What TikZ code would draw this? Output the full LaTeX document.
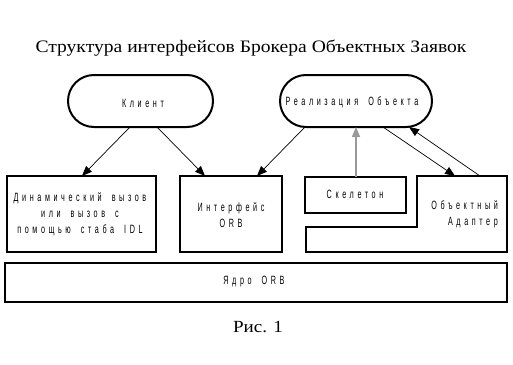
\documentclass[tikz,border=0pt]{standalone}
\usepackage{fontspec}
\setmainfont{Liberation Serif}
\newfontfamily\ttl[FakeStretch=1.12]{Liberation Serif}
\newfontfamily\narr[FakeStretch=0.6,LetterSpace=30,WordSpace=1.8]{Liberation Sans}
\usetikzlibrary{arrows.meta}
\begin{document}
\begin{tikzpicture}[x=1pt,y=-1pt,
  box/.style={draw,line width=2pt},
  lbl/.style={font=\narr\fontsize{12}{16}\selectfont,align=center,inner sep=0pt},
  conn/.style={line width=0.7pt,-{Triangle[length=10pt,width=8pt]}}]
\useasboundingbox (0,0) rectangle (513,364);
\node[inner sep=0pt,font=\ttl\fontsize{17.5}{20}\selectfont] (title) at (251,48) {Структура интерфейсов Брокера Объектных Заявок};
\draw[box,rounded corners=26pt] (68,75) rectangle (213,127);
\node[lbl] (client) at (143,103) {Клиент};
\draw[box,rounded corners=26pt] (280,75) rectangle (432,127);
\node[lbl] (real) at (352,102) {Реализация Объекта};
\draw[box] (7,176) rectangle (156,252);
\node[lbl] (dyn) at (80,214) {Динамический вызов\\или вызов с\\помощью стаба IDL};
\draw[box] (180,176) rectangle (282,252);
\node[lbl] (iface) at (231,215) {Интерфейс\\ORB};
\draw[box] (305,177) rectangle (406,213);
\node[lbl] (skel) at (355,194) {Скелетон};
\draw[box] (417,176) -- (507,176) -- (507,252) -- (306,252) -- (306,227) -- (417,227) -- cycle;
\node[lbl,align=right,anchor=east] (adapt) at (498,214) {Объектный\\Адаптер};
\draw[box] (5,263) rectangle (507,302);
\node[lbl] (core) at (254,282) {Ядро ORB};
\node[inner sep=0pt,font=\ttl\fontsize{17}{20}\selectfont] (fig) at (258,327) {Рис. 1};
\coordinate (c1) at (130,127); \coordinate (d1) at (82,176);
\coordinate (c2) at (157,127); \coordinate (i1) at (205,176);
\coordinate (r1) at (305,127); \coordinate (i2) at (257,176);
\coordinate (s1) at (356,177); \coordinate (r2) at (356,127);
\coordinate (r3) at (383,127); \coordinate (a1) at (455,176);
\coordinate (a2) at (480,176); \coordinate (r4) at (409,127);
\draw[conn] (c1) -- (d1);
\draw[conn] (c2) -- (i1);
\draw[conn] (r1) -- (i2);
\draw[conn,draw=gray!80,line width=1.5pt] (s1) -- (r2);
\draw[conn] (r3) -- (a1);
\draw[conn] (a2) -- (r4);
\end{tikzpicture}
\end{document}
